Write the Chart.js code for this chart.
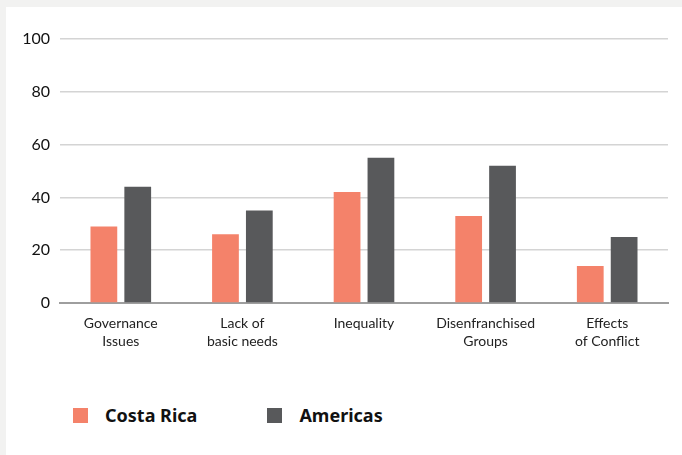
<!DOCTYPE html>
<html>
<head>
<meta charset="utf-8">
<script src="https://cdn.jsdelivr.net/npm/chart.js@4/dist/chart.umd.min.js"></script>
<style>
  html, body { margin: 0; padding: 0; background: #f2f2f1; width: 682px; height: 455px; overflow: hidden; }
  #panel { position: absolute; left: 6px; top: 7px; width: 676px; height: 448px; background: #fff; }
  #wrap { position: absolute; left: 0; top: 0; width: 676px; height: 360px; }
  #legend { position: absolute; left: 67px; top: 396px; font-family: "Noto Sans", sans-serif; font-weight: bold; font-size: 18px; color: #111; }
  .item { display: inline-flex; align-items: center; margin-right: 70px; }
  .box { width: 15px; height: 15px; margin-right: 17px; display: inline-block; }
</style>
</head>
<body>
<div id="panel">
  <div id="wrap"><canvas id="chart"></canvas></div>
  <div id="legend"></div>
</div>
<script>
"use strict";

// chart data
const CATEGORIES = [
    ["Governance", "Issues"],
    ["Lack of", "basic needs"],
    ["Inequality"],
    ["Disenfranchised", "Groups"],
    ["Effects", "of Conflict"]
];
const COSTA_RICA = [29, 26, 42, 33, 14];
const AMERICAS = [44, 35, 55, 52, 25];
const Y_TICKS = [0, 20, 40, 60, 80, 100];

const SERIES_NAMES = ["Costa Rica", "Americas"];
const SERIES_COLORS = ["#f4826a", "#58595b"];

let ctx = document.getElementById("chart").getContext("2d");

let chart = new Chart(ctx, {
    type: "bar",
    data: {
        labels: CATEGORIES,
        datasets: [
            { label: SERIES_NAMES[0], data: COSTA_RICA, backgroundColor: SERIES_COLORS[0] },
            { label: SERIES_NAMES[1], data: AMERICAS, backgroundColor: SERIES_COLORS[1] }
        ]
    },
    options: {
        responsive: true,
        maintainAspectRatio: false,
        animation: false,
        categoryPercentage: 0.557,
        barPercentage: 0.79,
        layout: { padding: { left: 0, right: 14, top: 32, bottom: 0 } },
        plugins: {
            legend: { display: false },
            tooltip: { enabled: false }
        },
        scales: {
            x: {
                grid: { display: false, drawTicks: false },
                border: { display: true, color: "#9e9e9e", width: 2 },
                ticks: {
                    color: "#222",
                    padding: 11,
                    maxRotation: 0,
                    autoSkip: false,
                    font: { family: "Lato", size: 14, lineHeight: 1.3 }
                },
                afterFit: function(scale) { scale.height = 64; }
            },
            y: {
                min: 0,
                max: 100,
                afterBuildTicks: function(scale) {
                    scale.ticks = Y_TICKS.map(function(v) { return { value: v }; });
                },
                grid: { color: "#d4d4d4", lineWidth: 1.5, drawTicks: false },
                border: { display: false },
                ticks: {
                    color: "#111",
                    padding: 10,
                    font: { family: "Lato", size: 16 }
                },
                afterFit: function(scale) { scale.width = 54; }
            }
        }
    }
});

// HTML legend
let legendHtml = "";
chart.data.datasets.forEach(function(ds) {
    legendHtml += '<span class="item"><span class="box" style="background:' + ds.backgroundColor + '"></span>' + ds.label + '</span>';
});
document.getElementById("legend").innerHTML = legendHtml;
</script>
</body>
</html>
